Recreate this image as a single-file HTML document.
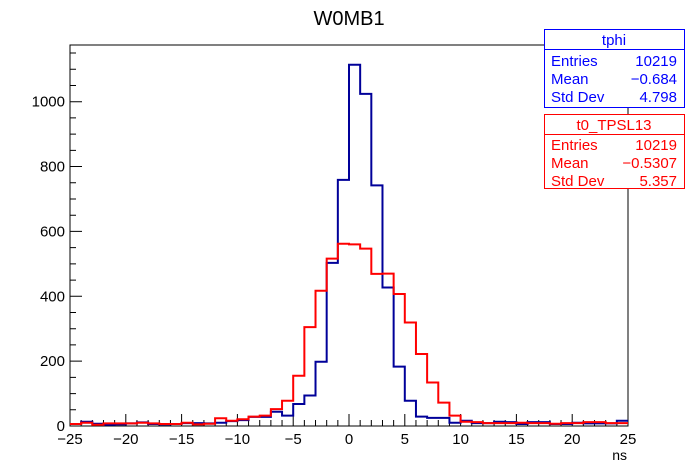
<!DOCTYPE html>
<html><head><meta charset="utf-8"><style>
body{margin:0;background:#fff;}
svg{display:block;font-family:"Liberation Sans",sans-serif;}
</style></head><body>
<svg id="c" width="698" height="476" viewBox="0 0 698 476">
<rect width="698" height="476" fill="#fff"/>
<text x="349" y="25" font-size="20" text-anchor="middle">W0MB1</text>
<g id="axes"></g>
<g id="series"></g>
<text x="627" y="460" font-size="14" text-anchor="end">ns</text>
<g>
<rect x="544.5" y="29.5" width="140" height="78" fill="#fff" stroke="#0000ff"/>
<line x1="544.5" y1="49.5" x2="684.5" y2="49.5" stroke="#0000ff"/>
<text x="614" y="45" font-size="15" fill="#0000ff" text-anchor="middle">tphi</text>
<text x="551" y="66" font-size="15" fill="#0000ff">Entries</text><text x="677" y="66" font-size="15" fill="#0000ff" text-anchor="end">10219</text>
<text x="551" y="84" font-size="15" fill="#0000ff">Mean</text><text x="677" y="84" font-size="15" fill="#0000ff" text-anchor="end">−0.684</text>
<text x="551" y="102" font-size="15" fill="#0000ff">Std Dev</text><text x="677" y="102" font-size="15" fill="#0000ff" text-anchor="end">4.798</text>
</g>
<g>
<rect x="544.5" y="114.5" width="140" height="74" fill="#fff" stroke="#ff0000"/>
<line x1="544.5" y1="134.5" x2="684.5" y2="134.5" stroke="#ff0000"/>
<text x="614" y="130" font-size="15" fill="#ff0000" text-anchor="middle">t0_TPSL13</text>
<text x="551" y="150" font-size="15" fill="#ff0000">Entries</text><text x="677" y="150" font-size="15" fill="#ff0000" text-anchor="end">10219</text>
<text x="551" y="168" font-size="15" fill="#ff0000">Mean</text><text x="677" y="168" font-size="15" fill="#ff0000" text-anchor="end">−0.5307</text>
<text x="551" y="186" font-size="15" fill="#ff0000">Std Dev</text><text x="677" y="186" font-size="15" fill="#ff0000" text-anchor="end">5.357</text>
</g>
</svg>
<script>
const binEdgesStart = -25;
const binWidth = 1;
const blueCounts = [6,13,7,4,5,8,11,6,5,6,9,9,8,10,15,18,28,28,44,32,68,94,198,503,759,1114,1024,742,427,183,78,29,25,25,10,16,9,9,13,12,6,12,12,6,6,10,8,8,8,16];
const redCounts = [6,10,4,8,8,8,10,8,6,6,10,5,7,24,16,21,29,32,52,78,155,305,417,516,562,560,547,469,470,407,319,222,134,72,32,13,12,9,9,9,10,9,9,7,9,9,12,12,9,9];
const xTicks = [-25,-20,-15,-10,-5,0,5,10,15,20,25];
const yTicks = [0,200,400,600,800,1000];
const X0=70,X1=628,Y0=426,Y1=45;
function sx(v){return X0+(v+25)/50*(X1-X0);}
function sy(v){return Y0-v*0.3243;}
const NS='http://www.w3.org/2000/svg';
const axes=document.getElementById('axes'), series=document.getElementById('series');
function mk(tag,attrs,parent){const e=document.createElementNS(NS,tag);for(const k in attrs)e.setAttribute(k,attrs[k]);parent.appendChild(e);return e;}
const frame=mk('rect',{x:X0,y:Y1,width:X1-X0,height:Y0-Y1,fill:'none',stroke:'#000','stroke-width':1},axes);


let d='';
for(let v=-25;v<=25;v++){const x=sx(v);const L=(v%5===0)?12:6;d+=`M${x},${Y0}V${Y0-L}`;}
for(let v=0;v<=1150;v+=50){const y=sy(v);if(y<Y1)break;const L=(v%200===0)?12:6;d+=`M${X0},${y}H${X0+L}`;}
const tk=mk('path',{d:d,stroke:'#000','stroke-width':1,fill:'none'},axes);


xTicks.forEach(v=>{const t=mk('text',{x:sx(v),y:Y0+18,'font-size':15,'text-anchor':'middle'},axes);t.textContent=(v<0?'−':'')+Math.abs(v);

});
yTicks.forEach(v=>{const t=mk('text',{x:X0-5,y:sy(v)+5,'font-size':15,'text-anchor':'end'},axes);t.textContent=v;

});
function hist(counts,color,name){let p=`M${sx(binEdgesStart)},${sy(counts[0])}`;
counts.forEach((c,i)=>{const a=binEdgesStart+i*binWidth;if(i>0)p+=`V${sy(c)}`;p+=`H${sx(a+binWidth)}`;});
const e=mk('path',{d:p,stroke:color,'stroke-width':2,fill:'none'},series);

}
hist(blueCounts,'#000099','histogram-tphi');
hist(redCounts,'#ff0000','histogram-t0-tpsl13');
</script>
</body></html>
